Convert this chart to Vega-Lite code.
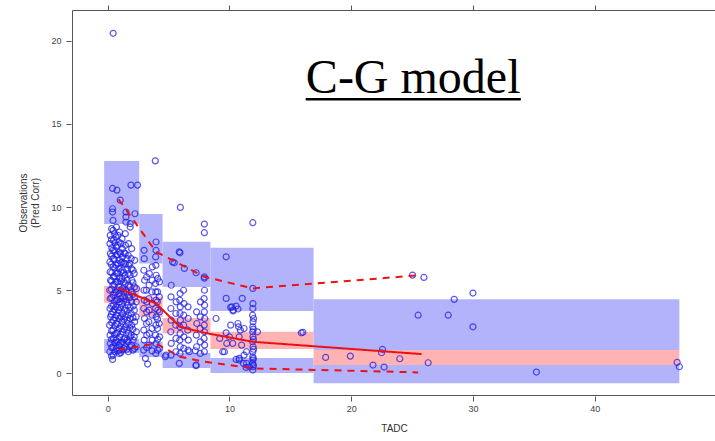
{
  "$schema": "https://vega.github.io/schema/vega-lite/v6.json",
  "width": 644,
  "height": 385,
  "autosize": {"type": "none"},
  "padding": {"left": 72, "top": 10, "right": 0, "bottom": 46},
  "config": {
    "view": {"stroke": "#555", "strokeWidth": 1},
    "axis": {
      "labelFont": "Liberation Sans", "titleFont": "Liberation Sans", "grid": false, "domain": false,
      "tickColor": "#555", "labelColor": "#444", "labelFontSize": 9, "titleFontSize": 10,
      "titleFontWeight": "normal", "titleColor": "#333", "tickSize": 5
    }
  },
  "resolve": {"axis": {"x": "independent", "y": "independent"}},
  "datasets": {
    "bins": [
      {"x1": -0.29, "x2": 2.59, "y1": 8.98, "y2": 12.77, "kind": "pi"},
      {"x1": -0.29, "x2": 2.59, "y1": 1.22, "y2": 2.06, "kind": "pi"},
      {"x1": -0.29, "x2": 2.59, "y1": 4.25, "y2": 5.25, "kind": "med"},
      {"x1": 2.59, "x2": 4.51, "y1": 6.6, "y2": 9.58, "kind": "pi"},
      {"x1": 2.59, "x2": 4.51, "y1": 0.98, "y2": 1.9, "kind": "pi"},
      {"x1": 2.59, "x2": 4.51, "y1": 3.4, "y2": 4.61, "kind": "med"},
      {"x1": 4.51, "x2": 8.44, "y1": 5.19, "y2": 7.91, "kind": "pi"},
      {"x1": 4.51, "x2": 8.44, "y1": 0.32, "y2": 1.22, "kind": "pi"},
      {"x1": 4.51, "x2": 8.44, "y1": 2.42, "y2": 3.33, "kind": "med"},
      {"x1": 8.44, "x2": 16.91, "y1": 3.75, "y2": 7.56, "kind": "pi"},
      {"x1": 8.44, "x2": 16.91, "y1": 0.02, "y2": 0.92, "kind": "pi"},
      {"x1": 8.44, "x2": 16.91, "y1": 1.46, "y2": 2.51, "kind": "med"},
      {"x1": 16.91, "x2": 46.95, "y1": 1.4, "y2": 4.45, "kind": "pi"},
      {"x1": 16.91, "x2": 46.95, "y1": -0.6, "y2": 0.5, "kind": "pi"},
      {"x1": 16.91, "x2": 46.95, "y1": 0.5, "y2": 1.4, "kind": "med"}
    ],
    "lines": [
      {"t": 0.89, "y": 5.11, "s": "p50"}, {"t": 3.97, "y": 4.21, "s": "p50"}, {"t": 5.94, "y": 2.8, "s": "p50"},
      {"t": 7.94, "y": 2.44, "s": "p50"}, {"t": 11.92, "y": 1.9, "s": "p50"}, {"t": 25.78, "y": 1.16, "s": "p50"},
      {"t": 0.89, "y": 10.47, "s": "p95"}, {"t": 3.97, "y": 7.31, "s": "p95"}, {"t": 5.94, "y": 6.57, "s": "p95"},
      {"t": 7.94, "y": 5.81, "s": "p95"}, {"t": 11.92, "y": 5.11, "s": "p95"}, {"t": 25.78, "y": 5.91, "s": "p95"},
      {"t": 0.89, "y": 1.4, "s": "p05"}, {"t": 3.97, "y": 1.8, "s": "p05"}, {"t": 5.94, "y": 1.0, "s": "p05"},
      {"t": 7.94, "y": 0.7, "s": "p05"}, {"t": 11.92, "y": 0.3, "s": "p05"}, {"t": 25.5, "y": 0.06, "s": "p05"}
    ],
    "obs": [
      {"t":0.18,"y":1.3},{"t":0.22,"y":1.8},{"t":0.2,"y":2.3},{"t":0.16,"y":2.9},{"t":0.24,"y":3.4},{"t":0.19,"y":3.9},{"t":0.21,"y":4.5},{"t":0.17,"y":5.0},{"t":0.23,"y":5.6},{"t":0.2,"y":6.1},{"t":0.18,"y":6.7},{"t":0.22,"y":7.2},{"t":0.19,"y":7.8},{"t":0.21,"y":8.3},
      {"t":0.45,"y":1.1},{"t":0.43,"y":1.6},{"t":0.47,"y":2.1},{"t":0.44,"y":2.6},{"t":0.46,"y":3.2},{"t":0.42,"y":3.7},{"t":0.48,"y":4.1},{"t":0.45,"y":4.7},{"t":0.43,"y":5.3},{"t":0.47,"y":5.8},{"t":0.44,"y":6.4},{"t":0.46,"y":6.9},{"t":0.42,"y":7.4},{"t":0.48,"y":8.0},{"t":0.45,"y":8.6},{"t":0.44,"y":9.2},
      {"t":0.7,"y":1.5},{"t":0.68,"y":2.0},{"t":0.72,"y":2.4},{"t":0.69,"y":3.0},{"t":0.71,"y":3.5},{"t":0.67,"y":4.0},{"t":0.73,"y":4.4},{"t":0.7,"y":4.9},{"t":0.68,"y":5.5},{"t":0.72,"y":6.0},{"t":0.69,"y":6.5},{"t":0.71,"y":7.1},{"t":0.7,"y":7.6},{"t":0.68,"y":8.2},{"t":0.72,"y":8.8},
      {"t":0.95,"y":1.2},{"t":0.93,"y":1.7},{"t":0.97,"y":2.2},{"t":0.94,"y":2.7},{"t":0.96,"y":3.3},{"t":0.92,"y":3.8},{"t":0.98,"y":4.3},{"t":0.95,"y":4.8},{"t":0.93,"y":5.2},{"t":0.97,"y":5.7},{"t":0.94,"y":6.3},{"t":0.96,"y":6.8},{"t":0.95,"y":7.3},{"t":0.93,"y":7.9},{"t":0.97,"y":8.5},
      {"t":1.2,"y":1.4},{"t":1.18,"y":1.9},{"t":1.22,"y":2.5},{"t":1.19,"y":3.1},{"t":1.21,"y":3.6},{"t":1.17,"y":4.2},{"t":1.23,"y":4.6},{"t":1.2,"y":5.1},{"t":1.18,"y":5.7},{"t":1.22,"y":6.2},{"t":1.19,"y":6.7},{"t":1.21,"y":7.0},{"t":1.2,"y":7.5},{"t":1.18,"y":8.1},
      {"t":1.45,"y":1.6},{"t":1.43,"y":2.1},{"t":1.47,"y":2.8},{"t":1.44,"y":3.4},{"t":1.46,"y":3.9},{"t":1.42,"y":4.5},{"t":1.48,"y":5.0},{"t":1.45,"y":5.4},{"t":1.43,"y":5.9},{"t":1.47,"y":6.6},{"t":1.44,"y":7.2},{"t":1.46,"y":7.7},{"t":1.45,"y":8.4},
      {"t":1.7,"y":1.3},{"t":1.68,"y":1.9},{"t":1.72,"y":2.4},{"t":1.69,"y":3.0},{"t":1.71,"y":3.5},{"t":1.67,"y":4.1},{"t":1.73,"y":4.7},{"t":1.7,"y":5.3},{"t":1.68,"y":6.0},{"t":1.72,"y":6.5},{"t":1.69,"y":7.1},{"t":1.71,"y":7.8},
      {"t":1.95,"y":1.7},{"t":1.93,"y":2.3},{"t":1.97,"y":2.9},{"t":1.94,"y":3.6},{"t":1.96,"y":4.3},{"t":1.92,"y":4.9},{"t":1.98,"y":5.6},{"t":1.95,"y":6.3},{"t":1.93,"y":6.9},{"t":1.97,"y":7.5},
      {"t":2.2,"y":1.5},{"t":2.18,"y":2.2},{"t":2.22,"y":3.1},{"t":2.19,"y":3.8},{"t":2.21,"y":4.6},{"t":2.2,"y":5.2},{"t":2.18,"y":6.0},{"t":2.22,"y":6.8},
      {"t":0.32,"y":1.05},{"t":0.33,"y":1.55},{"t":0.31,"y":2.05},{"t":0.32,"y":2.55},{"t":0.34,"y":3.05},{"t":0.3,"y":3.55},{"t":0.32,"y":4.05},{"t":0.33,"y":4.55},{"t":0.31,"y":5.05},{"t":0.32,"y":5.55},{"t":0.34,"y":6.05},{"t":0.3,"y":6.55},{"t":0.32,"y":7.05},{"t":0.33,"y":7.55},{"t":0.31,"y":8.05},{"t":0.32,"y":8.7},
      {"t":0.57,"y":1.3},{"t":0.58,"y":1.85},{"t":0.56,"y":2.35},{"t":0.57,"y":2.85},{"t":0.59,"y":3.35},{"t":0.55,"y":3.85},{"t":0.57,"y":4.35},{"t":0.58,"y":4.85},{"t":0.56,"y":5.35},{"t":0.57,"y":5.85},{"t":0.59,"y":6.35},{"t":0.55,"y":6.85},{"t":0.57,"y":7.35},{"t":0.58,"y":7.85},{"t":0.56,"y":8.4},
      {"t":0.83,"y":1.35},{"t":0.84,"y":1.9},{"t":0.82,"y":2.45},{"t":0.83,"y":2.95},{"t":0.85,"y":3.45},{"t":0.81,"y":3.95},{"t":0.83,"y":4.45},{"t":0.84,"y":5.0},{"t":0.82,"y":5.5},{"t":0.83,"y":6.05},{"t":0.85,"y":6.6},{"t":0.81,"y":7.15},{"t":0.83,"y":7.7},{"t":0.84,"y":8.3},
      {"t":1.08,"y":1.25},{"t":1.09,"y":1.8},{"t":1.07,"y":2.35},{"t":1.08,"y":2.85},{"t":1.1,"y":3.4},{"t":1.06,"y":3.95},{"t":1.08,"y":4.5},{"t":1.09,"y":5.0},{"t":1.07,"y":5.55},{"t":1.08,"y":6.1},{"t":1.1,"y":6.65},{"t":1.06,"y":7.2},{"t":1.08,"y":7.8},
      {"t":1.33,"y":1.5},{"t":1.34,"y":2.05},{"t":1.32,"y":2.65},{"t":1.33,"y":3.25},{"t":1.35,"y":3.8},{"t":1.31,"y":4.35},{"t":1.33,"y":4.9},{"t":1.34,"y":5.5},{"t":1.32,"y":6.05},{"t":1.33,"y":6.6},{"t":1.35,"y":7.25},
      {"t":1.58,"y":1.45},{"t":1.59,"y":2.0},{"t":1.57,"y":2.6},{"t":1.58,"y":3.2},{"t":1.6,"y":3.75},{"t":1.56,"y":4.3},{"t":1.58,"y":4.9},{"t":1.59,"y":5.6},{"t":1.57,"y":6.25},{"t":1.58,"y":6.9},
      {"t":1.83,"y":1.6},{"t":1.84,"y":2.2},{"t":1.82,"y":2.75},{"t":1.83,"y":3.3},{"t":1.85,"y":3.95},{"t":1.81,"y":4.55},{"t":1.83,"y":5.2},{"t":1.84,"y":5.9},{"t":1.82,"y":6.6},
      {"t":2.08,"y":1.4},{"t":2.09,"y":2.0},{"t":2.07,"y":2.65},{"t":2.08,"y":3.35},{"t":2.1,"y":4.05},{"t":2.06,"y":4.75},{"t":2.08,"y":5.45},{"t":2.09,"y":6.2},
      {"t":2.35,"y":1.6},{"t":2.36,"y":2.5},{"t":2.34,"y":3.4},{"t":2.35,"y":4.3},{"t":2.37,"y":5.1},
      {"t":0.45,"y":20.45},{"t":0.4,"y":11.12},{"t":0.76,"y":11.02},{"t":1.91,"y":11.32},{"t":2.45,"y":11.32},{"t":1.03,"y":10.42},{"t":0.4,"y":9.9},{"t":0.4,"y":9.7},{"t":1.5,"y":9.7},{"t":1.5,"y":9.4},{"t":1.5,"y":9.1},{"t":2.24,"y":9.6},{"t":1.85,"y":9.0},{"t":1.85,"y":8.8},{"t":0.4,"y":0.84},{"t":0.95,"y":1.4},
      {"t":2.95,"y":1.4},{"t":3.0,"y":2.0},{"t":2.97,"y":2.6},{"t":3.02,"y":3.3},{"t":2.96,"y":3.9},{"t":3.01,"y":4.4},{"t":2.98,"y":5.0},{"t":3.03,"y":5.6},{"t":2.97,"y":6.2},{"t":3.0,"y":6.9},{"t":2.99,"y":7.4},
      {"t":3.4,"y":1.7},{"t":3.42,"y":2.4},{"t":3.38,"y":3.1},{"t":3.41,"y":3.8},{"t":3.39,"y":4.5},{"t":3.4,"y":5.3},{"t":3.42,"y":6.0},
      {"t":3.95,"y":1.2},{"t":3.97,"y":1.8},{"t":3.93,"y":2.3},{"t":3.96,"y":2.9},{"t":3.98,"y":3.4},{"t":3.94,"y":3.9},{"t":3.97,"y":4.4},{"t":3.95,"y":4.9},{"t":3.93,"y":5.4},{"t":3.98,"y":5.9},{"t":3.96,"y":6.5},{"t":3.94,"y":7.0},{"t":3.97,"y":7.4},
      {"t":4.25,"y":1.5},{"t":4.27,"y":2.2},{"t":4.23,"y":3.0},{"t":4.26,"y":3.7},{"t":4.24,"y":4.6},{"t":4.25,"y":5.5},
      {"t":3.2,"y":1.55},{"t":3.21,"y":2.3},{"t":3.19,"y":3.0},{"t":3.2,"y":3.7},{"t":3.22,"y":4.3},{"t":3.18,"y":5.0},{"t":3.2,"y":5.8},
      {"t":3.65,"y":1.35},{"t":3.66,"y":2.0},{"t":3.64,"y":2.7},{"t":3.65,"y":3.5},{"t":3.67,"y":4.2},{"t":3.63,"y":4.9},{"t":3.65,"y":5.6},{"t":3.66,"y":6.4},
      {"t":4.1,"y":1.4},{"t":4.11,"y":2.05},{"t":4.09,"y":2.7},{"t":4.1,"y":3.25},{"t":4.12,"y":3.8},{"t":4.08,"y":4.3},{"t":4.1,"y":4.9},{"t":4.11,"y":5.7},
      {"t":3.91,"y":12.78},{"t":3.97,"y":7.9},{"t":3.28,"y":0.56},{"t":3.1,"y":0.9},
      {"t":5.2,"y":1.1},{"t":5.22,"y":1.8},{"t":5.18,"y":2.5},{"t":5.21,"y":3.2},{"t":5.19,"y":3.9},{"t":5.2,"y":4.6},{"t":5.22,"y":5.3},
      {"t":5.94,"y":1.2},{"t":5.96,"y":1.6},{"t":5.92,"y":2.0},{"t":5.95,"y":2.4},{"t":5.93,"y":2.8},{"t":5.97,"y":3.2},{"t":5.94,"y":3.6},{"t":5.96,"y":4.0},{"t":5.92,"y":4.4},{"t":5.95,"y":4.8},
      {"t":6.6,"y":1.4},{"t":6.62,"y":2.0},{"t":6.58,"y":2.6},{"t":6.61,"y":3.3},{"t":6.6,"y":4.0},
      {"t":7.3,"y":1.6},{"t":7.28,"y":2.3},{"t":7.32,"y":3.0},{"t":7.3,"y":3.7},
      {"t":7.94,"y":1.3},{"t":7.96,"y":1.7},{"t":7.92,"y":2.1},{"t":7.95,"y":2.5},{"t":7.93,"y":2.9},{"t":7.97,"y":3.3},{"t":7.94,"y":3.7},{"t":7.96,"y":4.1},{"t":7.92,"y":4.5},{"t":7.95,"y":5.0},
      {"t":5.6,"y":1.3},{"t":5.61,"y":2.1},{"t":5.59,"y":2.9},{"t":5.6,"y":3.6},{"t":5.62,"y":4.3},
      {"t":6.25,"y":1.5},{"t":6.26,"y":2.2},{"t":6.24,"y":2.9},{"t":6.25,"y":3.5},{"t":6.27,"y":4.2},{"t":6.23,"y":5.0},
      {"t":7.6,"y":1.2},{"t":7.61,"y":1.9},{"t":7.59,"y":2.7},{"t":7.6,"y":3.4},{"t":7.62,"y":4.3},
      {"t":5.97,"y":9.98},{"t":7.94,"y":8.98},{"t":7.94,"y":8.46},{"t":5.88,"y":7.31},{"t":5.94,"y":7.25},{"t":5.47,"y":6.65},{"t":5.33,"y":6.7},{"t":6.3,"y":6.31},{"t":7.26,"y":6.05},{"t":7.94,"y":5.81},{"t":7.94,"y":5.73},{"t":7.26,"y":0.5},{"t":4.79,"y":1.1},{"t":5.88,"y":0.6},{"t":7.26,"y":0.46},{"t":4.73,"y":1.0},{"t":6.7,"y":1.3},{"t":7.2,"y":1.36},
      {"t":11.92,"y":0.2},{"t":11.94,"y":0.4},{"t":11.9,"y":0.6},{"t":11.93,"y":0.8},{"t":11.91,"y":1.0},{"t":11.92,"y":1.3},{"t":11.94,"y":1.6},{"t":11.9,"y":1.9},{"t":11.93,"y":2.2},{"t":11.91,"y":2.5},{"t":11.92,"y":2.8},{"t":11.94,"y":3.1},{"t":11.9,"y":3.5},{"t":11.92,"y":3.9},{"t":11.93,"y":4.2},
      {"t":11.97,"y":0.5},{"t":11.96,"y":0.9},{"t":11.98,"y":1.45},{"t":11.97,"y":2.05},{"t":11.96,"y":2.65},{"t":11.98,"y":3.3},
      {"t":9.73,"y":7.01},{"t":11.92,"y":9.06},{"t":11.92,"y":5.11},{"t":9.73,"y":4.51},{"t":11.05,"y":4.51},{"t":10.1,"y":3.97},{"t":10.7,"y":3.87},{"t":10.3,"y":3.81},{"t":10.2,"y":4.0},{"t":10.55,"y":4.05},{"t":10.3,"y":3.76},{"t":10.1,"y":2.9},{"t":10.7,"y":3.0},{"t":10.75,"y":2.8},{"t":10.9,"y":2.6},{"t":16.03,"y":2.47},{"t":15.9,"y":2.44},{"t":9.59,"y":1.3},{"t":9.78,"y":1.8},{"t":10.27,"y":1.8},{"t":10.8,"y":0.9},{"t":11.2,"y":1.1},{"t":11.4,"y":0.6},{"t":10.55,"y":0.84},{"t":10.8,"y":0.8},{"t":11.15,"y":0.6},{"t":11.37,"y":0.36},{"t":11.65,"y":0.4},{"t":9.73,"y":2.44},{"t":10.0,"y":2.2},{"t":10.8,"y":2.2},{"t":11.0,"y":1.7},{"t":11.2,"y":2.7},{"t":11.4,"y":1.3},{"t":12.3,"y":2.5},{"t":9.45,"y":1.3},{"t":8.9,"y":3.3},{"t":9.2,"y":2.1},
      {"t":17.9,"y":0.96},{"t":19.93,"y":1.04},{"t":22.57,"y":1.44},{"t":22.49,"y":1.24},{"t":21.79,"y":0.5},{"t":22.7,"y":0.38},{"t":23.99,"y":0.88},{"t":26.32,"y":0.64},{"t":25.04,"y":5.91},{"t":25.97,"y":5.77},{"t":25.5,"y":3.5},{"t":27.97,"y":3.5},{"t":28.46,"y":4.45},{"t":30.0,"y":4.83},{"t":30.0,"y":2.8},{"t":35.21,"y":0.08},{"t":46.77,"y":0.66},{"t":46.95,"y":0.4}
    ],
    "label": [{"text": "C-G model", "x": 25.09, "y": 16.84, "x1": 16.26, "x2": 33.93, "yu": 16.48}]
  },
  "layer": [
    {
      "data": {"name": "bins"},
      "mark": {"type": "rect"},
      "encoding": {
        "x": {"field": "x1", "type": "quantitative", "scale": {"domain": [-2.93, 49.96], "nice": false, "zero": false},
              "axis": {"orient": "bottom", "values": [0, 10, 20, 30, 40], "title": "TADC", "offset": 1, "labelPadding": 3, "titlePadding": 10}},
        "x2": {"field": "x2"},
        "y": {"field": "y1", "type": "quantitative", "scale": {"domain": [-1.3, 21.85], "nice": false, "zero": false},
              "axis": {"values": [0, 5, 10, 15, 20], "title": ["Observations", "(Pred Corr)"], "offset": 1, "labelPadding": 5, "titlePadding": 10}},
        "y2": {"field": "y2"},
        "color": {"field": "kind", "type": "nominal", "scale": {"domain": ["pi", "med"], "range": ["#b3b3fb", "#ffb3b3"]}, "legend": null}
      }
    },
    {
      "data": {"name": "obs"},
      "mark": {"type": "point", "shape": "circle", "filled": false, "size": 36, "strokeWidth": 1.2, "color": "#2020e8", "opacity": 0.75},
      "encoding": {
        "x": {"field": "t", "type": "quantitative", "axis": null},
        "y": {"field": "y", "type": "quantitative", "axis": null}
      }
    },
    {
      "data": {"name": "lines"},
      "mark": {"type": "line", "color": "#ee1111", "strokeWidth": 2},
      "encoding": {
        "x": {"field": "t", "type": "quantitative", "axis": null},
        "y": {"field": "y", "type": "quantitative", "axis": null},
        "detail": {"field": "s"},
        "strokeDash": {"field": "s", "type": "nominal", "scale": {"domain": ["p05", "p50", "p95"], "range": [[7, 6], [1, 0], [7, 6]]}, "legend": null}
      }
    },
    {
      "data": {"name": "label"},
      "mark": {"type": "text", "font": "Liberation Serif", "fontSize": 48, "color": "#000", "align": "center", "baseline": "alphabetic"},
      "encoding": {
        "x": {"field": "x", "type": "quantitative", "axis": null},
        "y": {"field": "y", "type": "quantitative", "axis": null},
        "text": {"field": "text"}
      }
    },
    {
      "data": {"name": "label"},
      "mark": {"type": "rule", "color": "#000", "strokeWidth": 2.6},
      "encoding": {
        "x": {"field": "x1", "type": "quantitative",
              "axis": {"orient": "top", "values": [0, 10, 20, 30, 40], "labels": false, "title": null}},
        "x2": {"field": "x2"},
        "y": {"field": "yu", "type": "quantitative", "axis": null}
      }
    }
  ]
}
